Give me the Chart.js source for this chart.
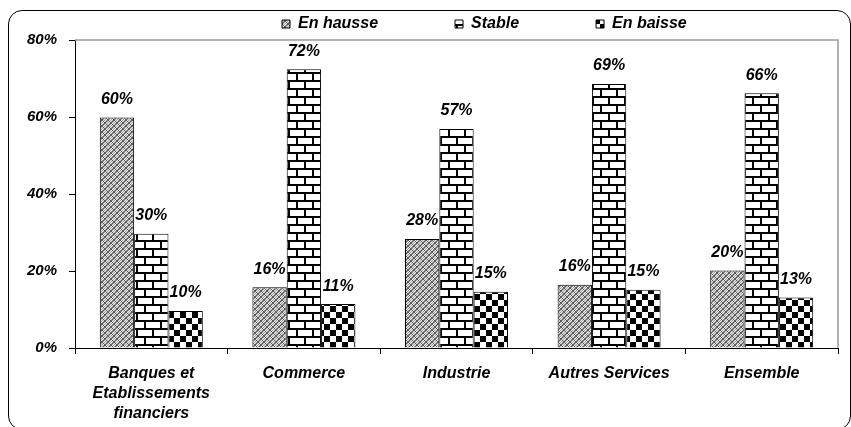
<!DOCTYPE html>
<html>
<head>
<meta charset="utf-8">
<script src="https://cdn.jsdelivr.net/npm/chart.js@4.4.0/dist/chart.umd.min.js"></script>
<style>
  html, body { margin: 0; padding: 0; background: #fff; overflow: hidden; }
  #wrap { position: relative; width: 851px; height: 427px; }
  #frame {
    position: absolute; left: 8px; top: 10px; width: 843px; height: 420px;
    border: 1.5px solid #000; border-radius: 14px; box-sizing: border-box;
  }
  #myChart { position: absolute; left: 0; top: 0; }
</style>
</head>
<body>
<div id="wrap">
  <div id="frame"></div>
  <canvas id="myChart" width="851" height="427"></canvas>
</div>
<script>
const categories = [["Banques et", "Etablissements", "financiers"], "Commerce", "Industrie", "Autres Services", "Ensemble"];
const seriesNames = ["En hausse", "Stable", "En baisse"];
const enHausse = [59.9, 15.8, 28.3, 16.4, 20.1];
const stable = [29.7, 72.4, 56.9, 68.6, 66.2];
const enBaisse = [9.6, 11.4, 14.6, 15.1, 13.1];
const yTicks = [0, 20, 40, 60, 80];

const FONT = '"Liberation Sans", Arial, sans-serif';

function makePattern(w, h, draw) {
  const c = document.createElement("canvas");
  c.width = w;
  c.height = h;
  draw(c.getContext("2d"));
  return c.getContext("2d").createPattern(c, "repeat");
}

// grey trellis
const hausseFill = makePattern(6, 6, (g) => {
  for (let y = 0; y < 6; y++) {
    for (let x = 0; x < 6; x++) {
      if (x === y || x === 5 - y) g.fillStyle = "#5c5c5c";
      else if ((x + y) % 2 === 0) g.fillStyle = "#a8a8a8";
      else g.fillStyle = "#e6e6e6";
      g.fillRect(x, y, 1, 1);
    }
  }
});

// bricks
const stableFill = makePattern(16, 16, (g) => {
  g.fillStyle = "#fff";
  g.fillRect(0, 0, 16, 16);
  g.fillStyle = "#000";
  g.fillRect(0, 0, 16, 2);
  g.fillRect(0, 8, 16, 2);
  g.fillRect(0, 0, 2, 8);
  g.fillRect(8, 8, 2, 8);
});

// checkerboard
const baisseFill = makePattern(12, 12, (g) => {
  g.fillStyle = "#fff";
  g.fillRect(0, 0, 12, 12);
  g.fillStyle = "#000";
  g.fillRect(0, 0, 6, 6);
  g.fillRect(6, 6, 6, 6);
});

const barLabels = {
  id: "barLabels",
  afterDatasetsDraw(chart) {
    const ctx = chart.ctx;
    ctx.save();
    ctx.font = "italic bold 16px " + FONT;
    ctx.fillStyle = "#000";
    ctx.textAlign = "center";
    ctx.textBaseline = "middle";
    chart.data.datasets.forEach((ds, i) => {
      chart.getDatasetMeta(i).data.forEach((bar, j) => {
        ctx.fillText(Math.round(ds.data[j]) + "%", bar.x, bar.y - 18);
      });
    });
    ctx.restore();
  },
};

const plotBorder = {
  id: "plotBorder",
  afterDraw(chart) {
    const a = chart.chartArea;
    const ctx = chart.ctx;
    ctx.save();
    ctx.strokeStyle = "#9a9a9a";
    ctx.lineWidth = 1.5;
    ctx.beginPath();
    ctx.moveTo(a.left, a.top);
    ctx.lineTo(a.right, a.top);
    ctx.lineTo(a.right, a.bottom);
    ctx.stroke();
    ctx.restore();
  },
};

const LEG_PAD = 77;
const legendPlace = {
  id: "legendPlace",
  afterLayout(chart) {
    const lg = chart.legend;
    lg.left = 282 - LEG_PAD;
    lg.right = 851;
    lg.top = 16 - LEG_PAD;
  },
};

const ctx = document.getElementById("myChart").getContext("2d");
const myChart = new Chart(ctx, {
  type: "bar",
  data: {
    labels: categories,
    datasets: [
      { label: seriesNames[0], data: enHausse, backgroundColor: hausseFill },
      { label: seriesNames[1], data: stable, backgroundColor: stableFill },
      { label: seriesNames[2], data: enBaisse, backgroundColor: baisseFill },
    ].map((d) => Object.assign(d, { borderColor: "#000", borderWidth: 1 })),
  },
  plugins: [barLabels, plotBorder, legendPlace],
  options: {
    responsive: false,
    animation: false,
    layout: { padding: { left: 0, right: 13, top: 0, bottom: 0 } },
    datasets: {
      bar: { categoryPercentage: 0.675, barPercentage: 1.0 },
    },
    plugins: {
      tooltip: { enabled: false },
      legend: {
        position: "top",
        align: "start",
        maxHeight: 40,
        labels: {
          boxWidth: 8,
          boxHeight: 8,
          padding: LEG_PAD,
          color: "#000",
          font: { family: FONT, size: 16, style: "italic", weight: "bold" },
        },
      },
    },
    scales: {
      x: {
        grid: { drawOnChartArea: false, tickLength: 6, color: "#000" },
        border: { color: "#000", width: 1 },
        ticks: {
          color: "#000",
          padding: 10,
          maxRotation: 0,
          autoSkip: false,
          font: { family: FONT, size: 16, style: "italic", weight: "bold", lineHeight: 1.25 },
        },
        afterFit(scale) { scale.height = 79; },
      },
      y: {
        min: 0,
        max: 80,
        afterBuildTicks(scale) { scale.ticks = yTicks.map((v) => ({ value: v })); },
        grid: { drawOnChartArea: false, tickLength: 6, color: "#000" },
        border: { color: "#000", width: 1 },
        ticks: {
          color: "#000",
          padding: 12,
          callback: (v) => v + "%",
          font: { family: FONT, size: 15, style: "italic", weight: "bold" },
        },
        afterFit(scale) { scale.width = 75; },
      },
    },
  },
});
</script>
</body>
</html>
